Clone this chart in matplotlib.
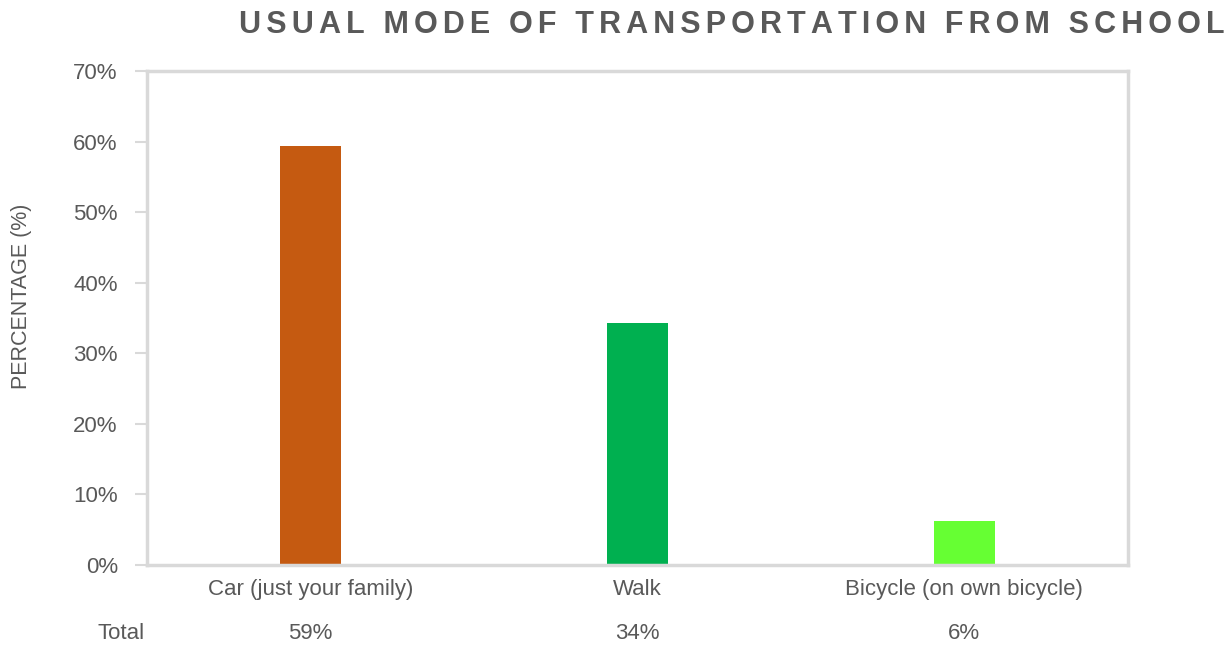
import matplotlib.pyplot as plt
from matplotlib.ticker import PercentFormatter

categories = ['Car (just your family)', 'Walk', 'Bicycle (on own bicycle)']
values = [59.4, 34.3, 6.2]
totals = ['59%', '34%', '6%']
colors = ['#C55A11', '#00B050', '#66FF33']

grey = '#595959'
frame = '#D9D9D9'

plt.rcParams['font.family'] = ['Liberation Sans', 'DejaVu Sans']

fig = plt.figure(figsize=(12.29, 6.45), dpi=100)
ax = fig.add_axes([0.1196, 0.124, 0.798, 0.766])

x = list(range(len(categories)))
ax.bar(x, values, width=0.187, color=colors)

ax.set_xlim(-0.5, len(categories) - 0.5)
ax.set_ylim(0, 70)
ax.set_yticks(range(0, 71, 10))
ax.yaxis.set_major_formatter(PercentFormatter(decimals=0))
ax.set_xticks(x)
ax.set_xticklabels(categories)
ax.tick_params(axis='x', length=0, pad=10, labelsize=16, labelcolor=grey)
ax.tick_params(axis='y', length=9, width=1.5, color=frame, pad=12,
               labelsize=16, labelcolor=grey)

for s in ax.spines.values():
    s.set_color(frame)
    s.set_linewidth(2.5)

fig.text(22 / 1229, 1 - 296 / 645, 'PERCENTAGE (%)', rotation=90,
         ha='center', va='center', fontsize=15.5, color=grey)

# data table row under the categories
ax.text(-0.002, -0.138, 'Total', transform=ax.transAxes,
        ha='right', va='center', fontsize=16, color=grey)
for xi, t in zip(x, totals):
    ax.text(xi, -0.138, t, transform=ax.get_xaxis_transform(),
            ha='center', va='center', fontsize=16, color=grey)

# letter-spaced title (six-per-em space between letters)
title = '\u2006'.join('USUAL MODE OF TRANSPORTATION FROM SCHOOL')
fig.text(732 / 1229, 1 - 25 / 645, title, ha='center', va='center',
         fontsize=22, fontweight='bold', color=grey)

fig.savefig('out.png', dpi=100)
